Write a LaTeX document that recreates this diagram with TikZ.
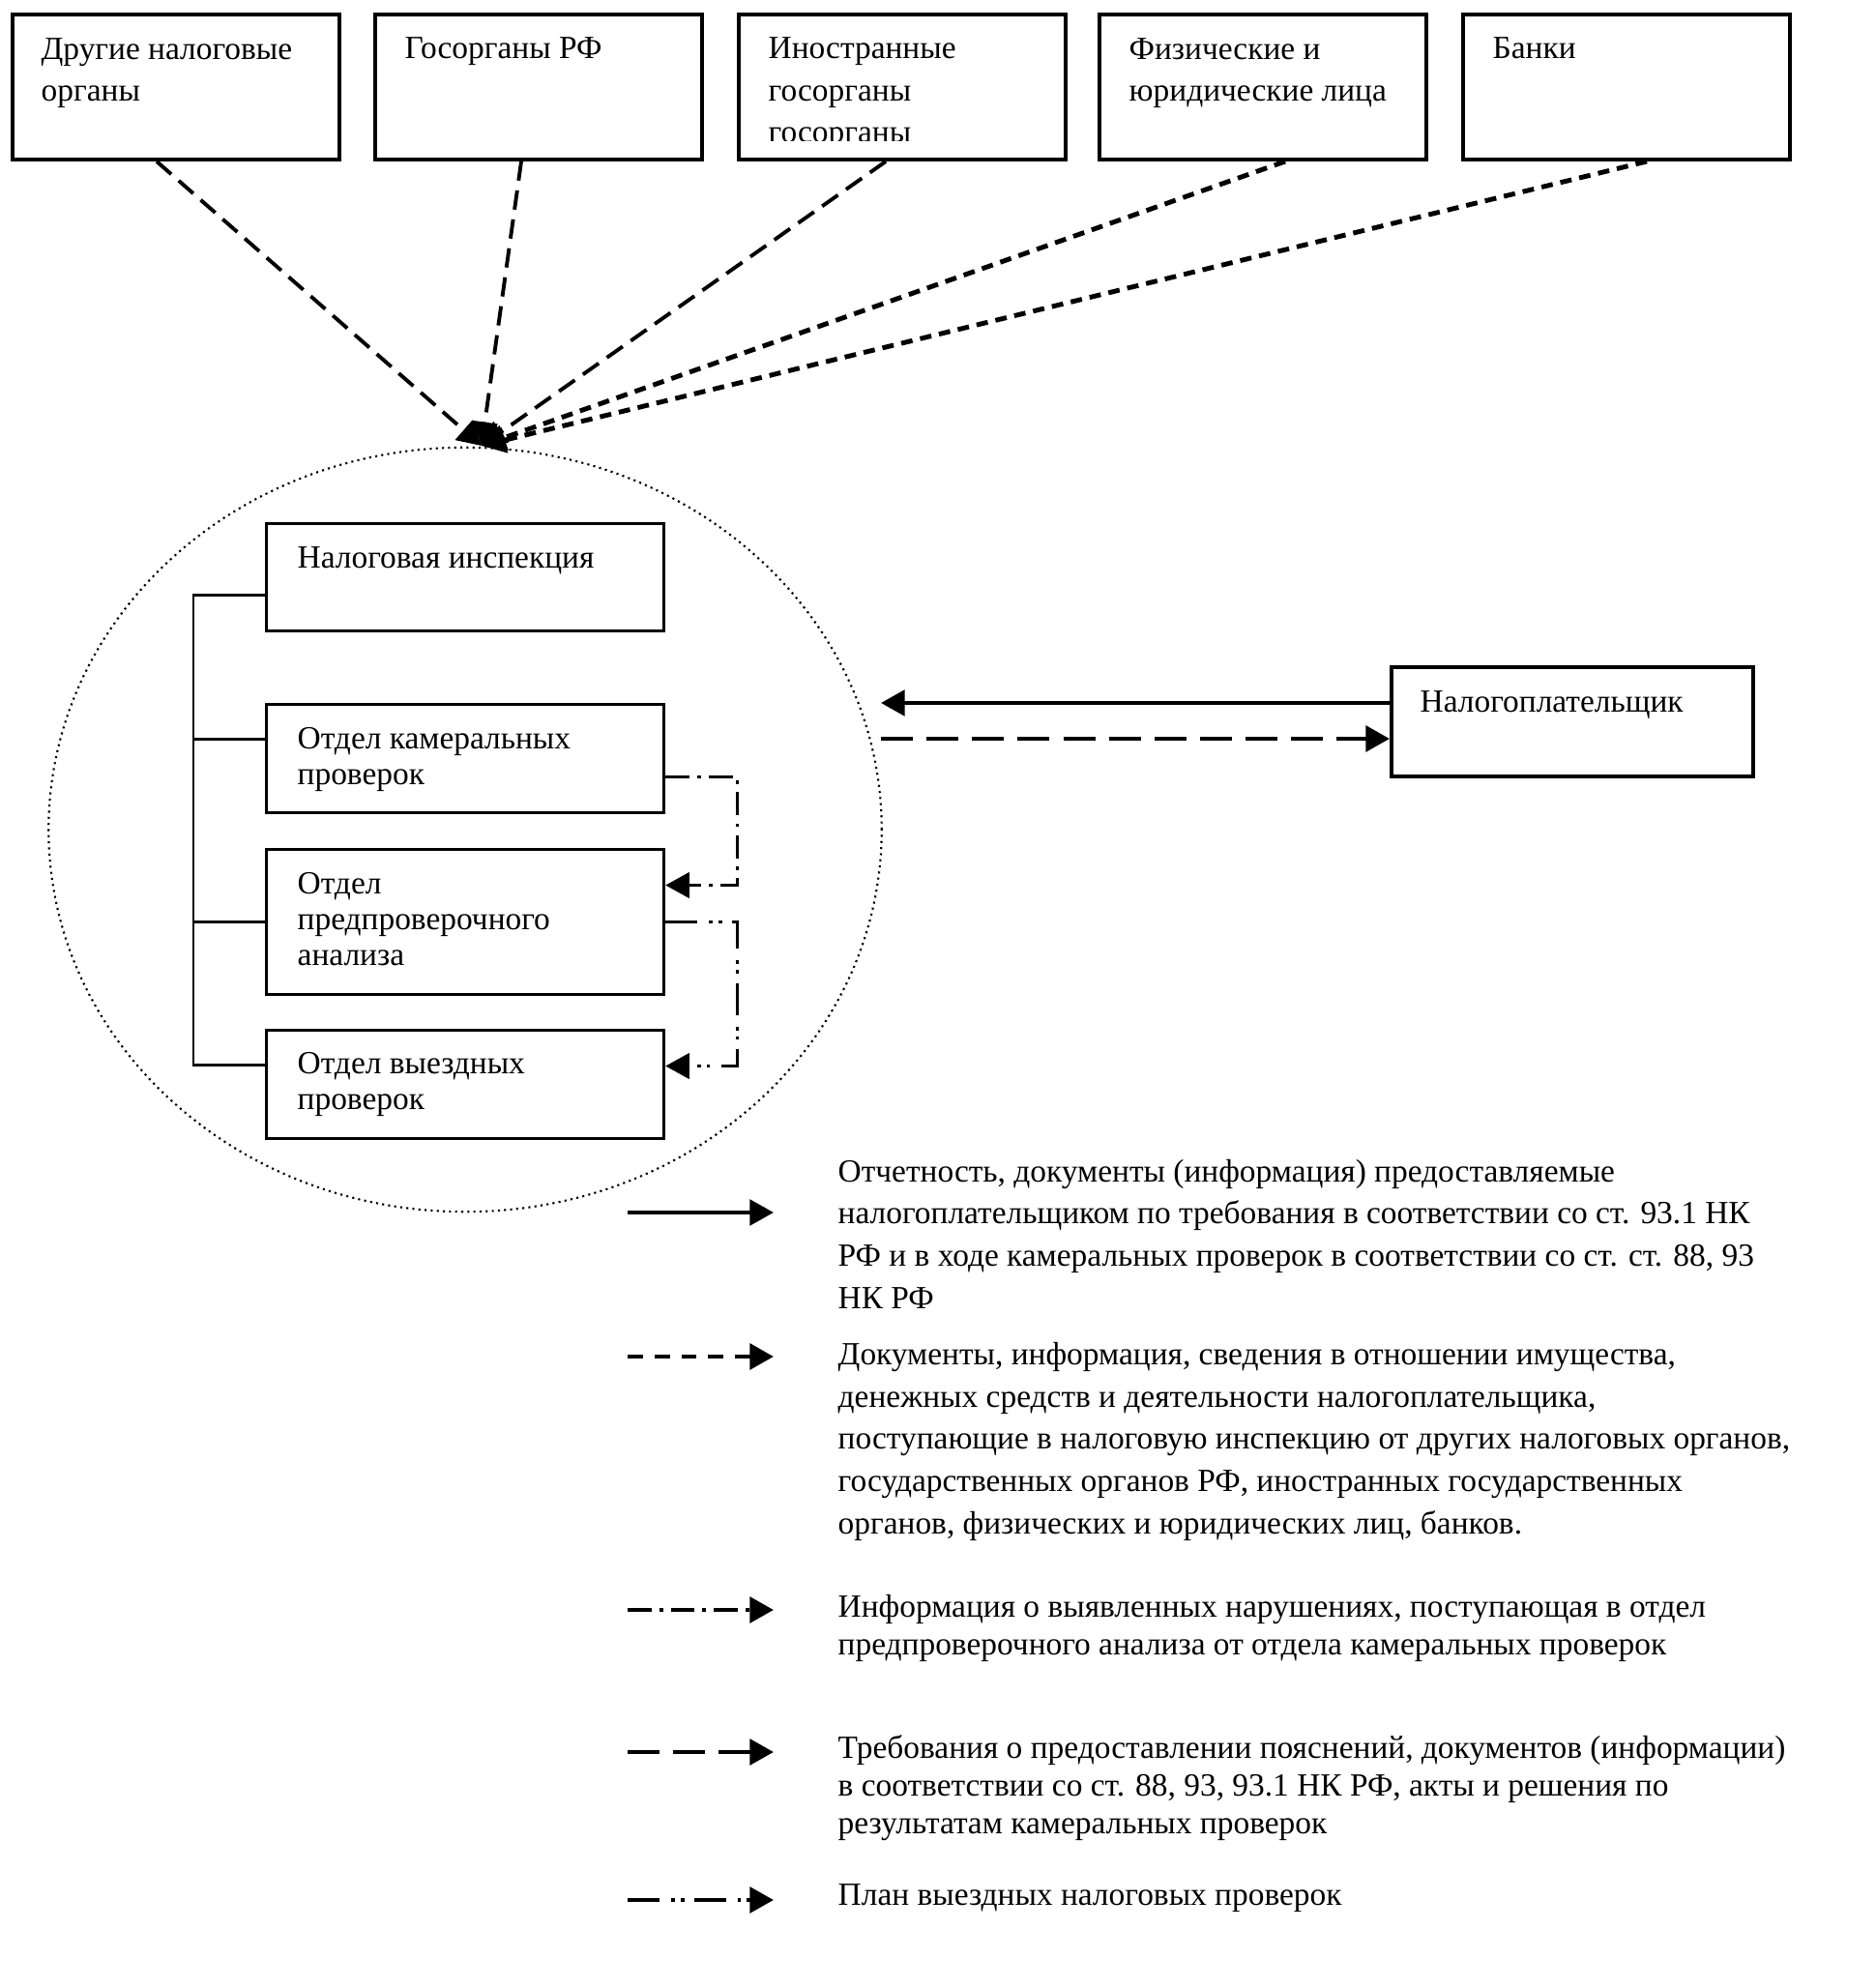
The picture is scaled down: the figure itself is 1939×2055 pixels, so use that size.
\documentclass[tikz,border=0pt]{standalone}
\usepackage{fontspec}
\setmainfont{Liberation Serif}
\usetikzlibrary{arrows.meta, shapes.geometric}

\begin{document}
\begin{tikzpicture}[x=0.01cm, y=-0.01cm,
  every node/.style={inner sep=0pt},
  topbox/.style={draw, line width=1.1pt, minimum width=3.38cm, minimum height=1.5cm, anchor=north west},
  unitbox/.style={draw, line width=0.85pt, minimum width=4.11cm, anchor=north west},
  toptext/.style={anchor=base west, align=left, font=\fontsize{9.5pt}{12.4pt}\selectfont},
  boxtext/.style={anchor=base west, align=left, font=\fontsize{9.5pt}{10.5pt}\selectfont},
  legtext/.style={anchor=base west, align=left, font=\fontsize{9.5pt}{12.4pt}\selectfont},
  legtextb/.style={anchor=base west, align=left, font=\fontsize{9.5pt}{11pt}\selectfont},
  arrowtip/.style={-{Triangle[length=7pt, width=7.5pt]}},
  srcline/.style={arrowtip, line width=1.1pt, dash pattern=on 5.7pt off 2.9pt},
  srcbold/.style={arrowtip, line width=1.4pt, dash pattern=on 3.4pt off 2.3pt},
  reportline/.style={arrowtip, line width=1.2pt},
  docsline/.style={arrowtip, line width=1.4pt, dash pattern=on 4.5pt off 3.4pt},
  infoline/.style={arrowtip, line width=1.3pt, dash pattern=on 7pt off 2.3pt on 1.1pt off 2.3pt},
  demandline/.style={arrowtip, line width=1.3pt, dash pattern=on 9.4pt off 4pt},
  planline/.style={arrowtip, line width=1.3pt, dash pattern=on 9.4pt off 3.4pt on 1.1pt off 1.7pt on 1.1pt off 2.8pt},
  treeline/.style={line width=0.85pt}]

  \useasboundingbox (0,0) rectangle (1939,2055);

  % sources of information
  \node[topbox] (other) at (11,13) {};
  \node[topbox] (gov) at (386,13) {};
  \node[topbox] (foreign) at (762,13) {};
  \node[topbox] (persons) at (1135,13) {};
  \node[topbox] (banks) at (1511,13) {};

  % multi-line texts are placed by the baseline of their last line
  \node[toptext] (other-t) at (42,105) {Другие налоговые\\органы};
  \node[toptext] (gov-t) at (418,61) {Госорганы РФ};
  \begin{scope}
    \clip (762,13) rectangle (1100,146);
    \node[toptext] (foreign-t) at (794,148) {Иностранные\\госорганы\\госорганы};
  \end{scope}
  \node[toptext] (persons-t) at (1167,105) {Физические и\\юридические лица};
  \node[toptext] (banks-t) at (1543,61) {Банки};

  % tax inspection
  \node[draw, ellipse, line width=0.6pt, dash pattern=on 0.6pt off 1.2pt,
        minimum width=8.61cm, minimum height=7.9cm] (insp) at (481,858) {};
  \coordinate (hub) at (498,461);

  \draw[srcline] ([xshift=-2mm]other.south) -- (hub);
  \draw[srcline] ([xshift=-1.8mm]gov.south) -- (hub);
  \draw[srcline] ([xshift=-1.7mm]foreign.south) -- (hub);
  \draw[srcbold] ([xshift=2.3mm]persons.south) -- (hub);
  \draw[srcbold] ([xshift=2.1mm]banks.south) -- (hub);

  \node[unitbox, minimum height=1.11cm] (ni) at (274,540) {};
  \node[boxtext] (ni-t) at (307,587) {Налоговая инспекция};
  \node[unitbox, minimum height=1.12cm] (okp) at (274,727) {};
  \node[boxtext] (okp-t) at (307,811) {Отдел камеральных\\проверок};
  \node[unitbox, minimum height=1.5cm] (opa) at (274,877) {};
  \node[boxtext] (opa-t) at (307,998) {Отдел\\предпроверочного\\анализа};
  \node[unitbox, minimum height=1.12cm] (ovp) at (274,1064) {};
  \node[boxtext] (ovp-t) at (307,1147) {Отдел выездных\\проверок};

  \draw[treeline] ([yshift=-1.85mm]ni.west) -- ++(-74,0) |- ([yshift=2mm]ovp.west);
  \draw[treeline] ([yshift=2mm]okp.west) -- ++(-74,0);
  \draw[treeline] (opa.west) -- ++(-74,0);

  \draw[infoline, line width=0.85pt] ([yshift=-1.9mm]okp.east) -- ++(74,0) |- ([yshift=3.8mm]opa.east);
  \draw[planline, line width=0.85pt] (opa.east) -- ++(74,0) |- ([yshift=1.9mm]ovp.east);

  % taxpayer
  \node[topbox, minimum width=3.74cm, minimum height=1.13cm] (payer) at (1437,688) {};
  \node[boxtext] (payer-t) at (1468,736) {Налогоплательщик};
  \coordinate (rin) at (911,727);
  \coordinate (rout) at (911,764);
  \draw[reportline] (payer.west |- rin) -- (rin);
  \draw[demandline] (rout) -- (payer.west |- rout);

  % legend
  \coordinate (key1) at (649,1254); \coordinate (key1e) at (800,1254);
  \coordinate (key2) at (649,1403); \coordinate (key2e) at (800,1403);
  \coordinate (key3) at (649,1665); \coordinate (key3e) at (800,1665);
  \coordinate (key4) at (649,1812); \coordinate (key4e) at (800,1812);
  \coordinate (key5) at (649,1965); \coordinate (key5e) at (800,1965);

  \draw[reportline] (key1) -- (key1e);
  \draw[docsline] (key2) -- (key2e);
  \draw[infoline] (key3) -- (key3e);
  \draw[demandline] (key4) -- (key4e);
  \draw[planline] (key5) -- (key5e);

  \node[legtext] (leg1) at (866,1353) {Отчетность, документы (информация) предоставляемые\\
    налогоплательщиком по требования в соответствии со ст. 93.1 НК\\
    РФ и в ходе камеральных проверок в соответствии со ст. ст. 88, 93\\
    НК РФ};
  \node[legtext] (leg2) at (866,1586) {Документы, информация, сведения в отношении имущества,\\
    денежных средств и деятельности налогоплательщика,\\
    поступающие в налоговую инспекцию от других налоговых органов,\\
    государственных органов РФ, иностранных государственных\\
    органов, физических и юридических лиц, банков.};
  \node[legtextb] (leg3) at (866,1711) {Информация о выявленных нарушениях, поступающая в отдел\\
    предпроверочного анализа от отдела камеральных проверок};
  \node[legtextb] (leg4) at (866,1896) {Требования о предоставлении пояснений, документов (информации)\\
    в соответствии со ст. 88, 93, 93.1 НК РФ, акты и решения по\\
    результатам камеральных проверок};
  \node[legtextb] (leg5) at (866,1970) {План выездных налоговых проверок};

\end{tikzpicture}
\end{document}
